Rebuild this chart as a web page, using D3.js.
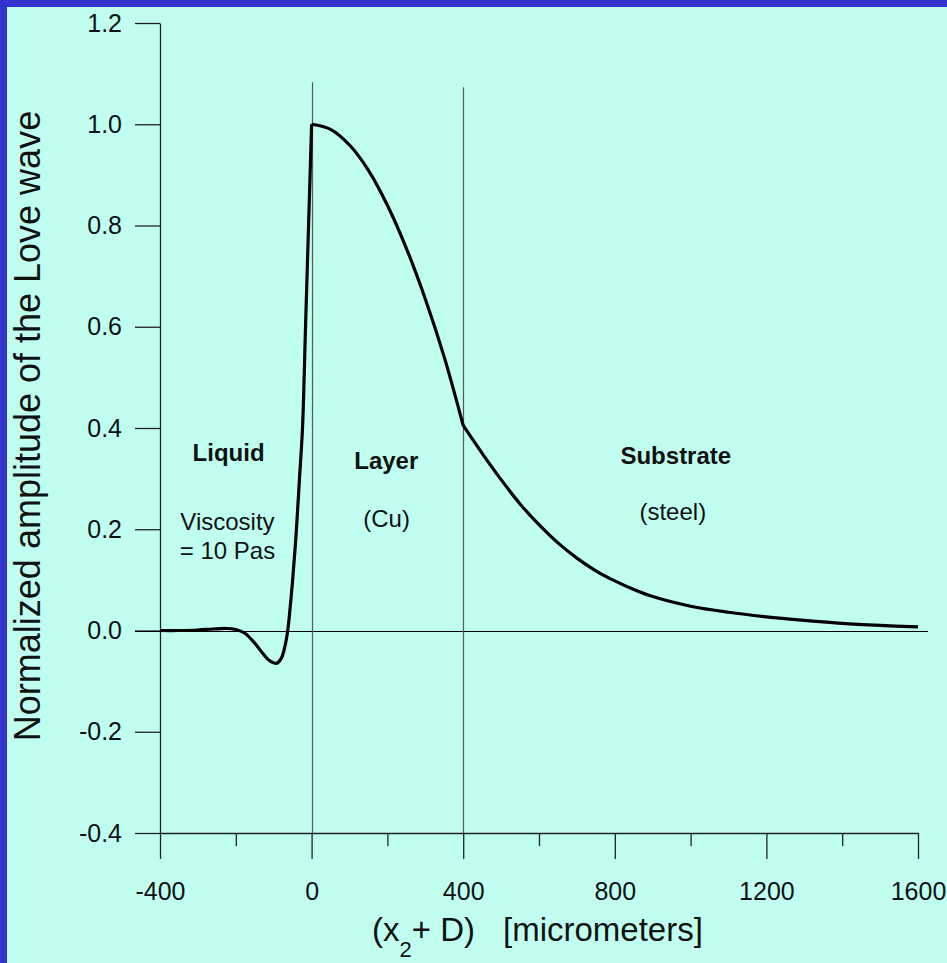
<!DOCTYPE html>
<html>
<head>
<meta charset="utf-8">
<script src="https://cdn.jsdelivr.net/npm/d3@7"></script>
<style>
  body { margin: 0; background: #c0fff0; }
  svg { display: block; font-family: "Liberation Sans", Arial, sans-serif; }
</style>
</head>
<body>
<svg id="canvas"></svg>
<script>
// Curve, one array per medium
const liquidX = [-400, -350, -300, -260, -225, -200, -177, -150, -129, -110, -93, -80, -70, -63, -56, -50, -40, -32, -24, -16, -8, 0];
const liquidY = [0.0, 0.0, 0.001, 0.003, 0.004, 0.002, -0.005, -0.025, -0.045, -0.06, -0.065, -0.055, -0.03, 0.0, 0.05, 0.1, 0.2, 0.3, 0.4, 0.6, 0.8, 1.0];

const layerX = [0, 50, 100, 150, 200, 250, 300, 350, 400];
const layerY = [1.0, 0.99, 0.959, 0.909, 0.84, 0.755, 0.655, 0.54, 0.405];

const substrateX = [400, 450, 500, 550, 600, 650, 700, 750, 800, 850, 900, 1000, 1100, 1200, 1300, 1400, 1500, 1600];
const substrateY = [0.405, 0.35, 0.298, 0.25, 0.209, 0.173, 0.143, 0.118, 0.098, 0.081, 0.067, 0.048, 0.036, 0.027, 0.02, 0.014, 0.01, 0.007];

const xTicks = [-400, 0, 400, 800, 1200, 1600];
const xMinorTicks = [-200, 200, 600, 1000, 1400];
const yTicks = [-0.4, -0.2, 0.0, 0.2, 0.4, 0.6, 0.8, 1.0, 1.2];

// boundaries between media and how high their lines reach
const boundaryX = [0, 400];
const boundaryTop = [1.083, 1.073];

const labels = [
    { text: "Liquid", x: -219, y: 0.335, bold: true },
    { text: "Viscosity", x: -222, y: 0.198, bold: false },
    { text: "= 10 Pas", x: -222, y: 0.142, bold: false },
    { text: "Layer", x: 197, y: 0.320, bold: true },
    { text: "(Cu)", x: 198, y: 0.205, bold: false },
    { text: "Substrate", x: 961, y: 0.329, bold: true },
    { text: "(steel)", x: 953, y: 0.218, bold: false }
];

const width = 947;
const height = 963;

const svg = d3.select("#canvas")
    .attr("width", width)
    .attr("height", height);

// background and the blue frame on top / left
svg.append("rect").attr("width", width).attr("height", height).attr("fill", "#c0fff0");
svg.append("rect").attr("width", width).attr("height", 7).attr("fill", "#3434cc");
svg.append("rect").attr("width", 7).attr("height", height).attr("fill", "#3434cc");

const x = d3.scaleLinear().domain([-400, 1600]).range([160, 918]);
const y = d3.scaleLinear().domain([-0.4, 1.2]).range([833, 23]);

const fmt = d => d3.format(".1f")(d).replace("\u2212", "-");

// left axis
svg.append("g")
    .attr("transform", `translate(${x.range()[0]},0)`)
    .call(d3.axisLeft(y).tickValues(yTicks).tickFormat(fmt).tickSize(25).tickSizeOuter(0).tickPadding(13));

// bottom axis, majors then minors
svg.append("g")
    .attr("transform", `translate(0,${y.range()[0]})`)
    .call(d3.axisBottom(x).tickValues(xTicks).tickFormat(d => String(d)).tickSize(26).tickSizeOuter(0).tickPadding(23));

svg.append("g")
    .attr("transform", `translate(0,${y.range()[0]})`)
    .call(d3.axisBottom(x).tickValues(xMinorTicks).tickFormat("").tickSize(13).tickSizeOuter(0))
    .select(".domain").remove();

svg.selectAll(".tick line, .domain").attr("stroke", "#222").attr("stroke-width", 1.3);
svg.selectAll(".tick text").attr("fill", "#111").attr("font-size", 25).attr("font-family", "Liberation Sans, Arial, sans-serif");

// zero line
svg.append("line")
    .attr("x1", x.range()[0] - 25)
    .attr("x2", x.range()[1] + 10)
    .attr("y1", Math.round(y(0)) + 0.5)
    .attr("y2", Math.round(y(0)) + 0.5)
    .attr("stroke", "#000")
    .attr("stroke-width", 1.2);

// boundary lines
svg.selectAll(".boundary")
    .data(boundaryX)
    .enter()
    .append("line")
    .attr("class", "boundary")
    .attr("x1", d => Math.round(x(d)) + 0.5)
    .attr("x2", d => Math.round(x(d)) + 0.5)
    .attr("y1", (d, i) => y(boundaryTop[i]))
    .attr("y2", y.range()[0])
    .attr("stroke", "#555")
    .attr("stroke-width", 1.2);

// the curve, drawn per medium so the kinks stay sharp
const line = d3.line()
    .x(d => x(d[0]))
    .y(d => y(d[1]))
    .curve(d3.curveCatmullRom.alpha(0.5));

[[liquidX, liquidY], [layerX, layerY], [substrateX, substrateY]].forEach(([xs, ys]) => {
    svg.append("path")
        .datum(d3.zip(xs, ys))
        .attr("d", line)
        .attr("fill", "none")
        .attr("stroke", "#000")
        .attr("stroke-width", 3.2)
        .attr("stroke-linejoin", "round");
});

// medium labels
svg.selectAll(".label")
    .data(labels)
    .enter()
    .append("text")
    .attr("class", "label")
    .attr("x", d => x(d.x))
    .attr("y", d => y(d.y))
    .attr("text-anchor", "middle")
    .attr("font-size", 24)
    .attr("font-weight", d => d.bold ? "bold" : "normal")
    .attr("fill", "#111")
    .text(d => d.text);

// axis titles
svg.append("text")
    .attr("transform", "translate(40,426) rotate(-90)")
    .attr("text-anchor", "middle")
    .attr("font-size", 36)
    .attr("fill", "#111")
    .text("Normalized amplitude of the Love wave");

const xTitle = svg.append("text")
    .attr("x", 372)
    .attr("y", 941)
    .attr("font-size", 33)
    .attr("fill", "#111");
xTitle.append("tspan").text("(x");
xTitle.append("tspan").attr("dy", 16).attr("font-size", 22).text("2");
xTitle.append("tspan").attr("dy", -16).text("+ D)");
xTitle.append("tspan").attr("x", 503).text("[micrometers]");
</script>
</body>
</html>
